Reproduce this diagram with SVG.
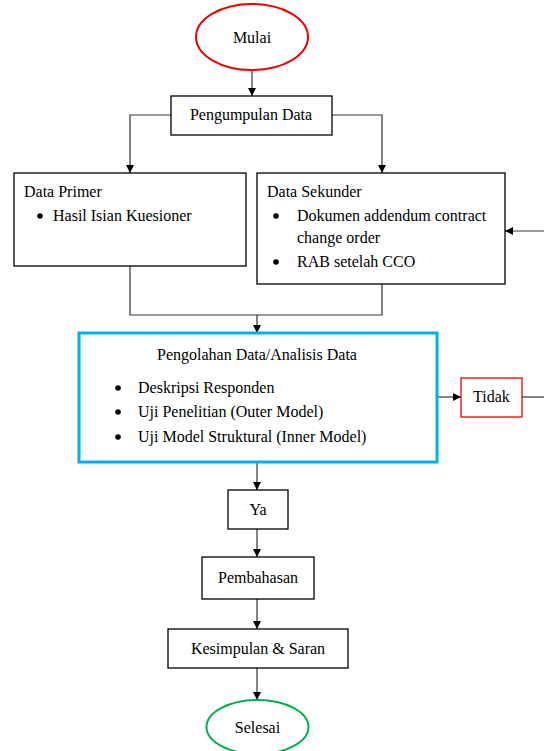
<svg xmlns="http://www.w3.org/2000/svg" width="544" height="751" viewBox="0 0 544 751">
<style>
text{font-family:"Liberation Serif","Times New Roman",serif;font-size:16px;fill:#000}
.c{text-anchor:middle}
.box{fill:#fff;stroke:#000;stroke-width:1.3}
.ln{fill:none;stroke:#333;stroke-width:1.2}
.b{fill:#000}
</style>
<defs>
<marker id="ah" viewBox="0 0 10 10" refX="10" refY="5" markerWidth="8" markerHeight="8" markerUnits="userSpaceOnUse" orient="auto">
<path d="M0,0 L10,5 L0,10 z" fill="#000"/>
</marker>
</defs>
<rect width="544" height="751" fill="#fff"/>
<g id="connectors">
<path class="ln" d="M252,70 V96" marker-end="url(#ah)"/>
<path class="ln" d="M171,115 H130 V173" marker-end="url(#ah)"/>
<path class="ln" d="M332,115 H382 V173" marker-end="url(#ah)"/>
<path class="ln" d="M544,231 H505" marker-end="url(#ah)"/>
<path class="ln" d="M130,266 V315 H382 V284"/>
<path class="ln" d="M257,315 V333" marker-end="url(#ah)"/>
<path class="ln" d="M437,397 H461" marker-end="url(#ah)"/>
<path class="ln" d="M522,397 H544"/>
<path class="ln" d="M257,462 V490" marker-end="url(#ah)"/>
<path class="ln" d="M257,529 V557" marker-end="url(#ah)"/>
<path class="ln" d="M257,599 V629" marker-end="url(#ah)"/>
<path class="ln" d="M257,668 V700" marker-end="url(#ah)"/>
</g>
<g id="mulai">
<ellipse cx="252" cy="37" rx="56" ry="33" fill="#fff" stroke="#e00" stroke-width="2"/>
<text class="c" x="252" y="43">Mulai</text>
</g>
<g id="pengumpulan">
<rect class="box" x="171" y="96" width="161" height="39"/>
<text class="c" x="251" y="120">Pengumpulan Data</text>
</g>
<g id="primer">
<rect class="box" x="14" y="173" width="232" height="93"/>
<text x="24" y="197">Data Primer</text>
<circle class="b" cx="40" cy="216" r="2.8"/>
<text x="53" y="221">Hasil Isian Kuesioner</text>
</g>
<g id="sekunder">
<rect class="box" x="257" y="173" width="248" height="111"/>
<text x="267" y="197">Data Sekunder</text>
<circle class="b" cx="276" cy="216" r="2.8"/>
<text x="297" y="221">Dokumen addendum contract</text>
<text x="297" y="243">change order</text>
<circle class="b" cx="276" cy="262" r="2.8"/>
<text x="297" y="267">RAB setelah CCO</text>
</g>
<g id="pengolahan">
<rect x="79" y="333" width="358" height="129" fill="#fff" stroke="#00b0f0" stroke-width="3"/>
<text class="c" x="257" y="360">Pengolahan Data/Analisis Data</text>
<circle class="b" cx="118" cy="388" r="2.8"/>
<text x="138" y="393">Deskripsi Responden</text>
<circle class="b" cx="118" cy="412" r="2.8"/>
<text x="138" y="417">Uji Penelitian (Outer Model)</text>
<circle class="b" cx="118" cy="437" r="2.8"/>
<text x="138" y="442">Uji Model Struktural (Inner Model)</text>
</g>
<g id="tidak">
<rect x="461" y="378" width="61" height="39" fill="#fff" stroke="#e00" stroke-width="1.3"/>
<text class="c" x="491.5" y="402">Tidak</text>
</g>
<g id="ya">
<rect class="box" x="228" y="490" width="60" height="39"/>
<text class="c" x="258" y="515">Ya</text>
</g>
<g id="pembahasan">
<rect class="box" x="202" y="557" width="112" height="42"/>
<text class="c" x="258" y="583">Pembahasan</text>
</g>
<g id="kesimpulan">
<rect class="box" x="168" y="629" width="180" height="39"/>
<text class="c" x="258" y="654">Kesimpulan &amp; Saran</text>
</g>
<g id="selesai">
<ellipse cx="257.5" cy="727" rx="51" ry="27" fill="#fff" stroke="#00b050" stroke-width="2"/>
<text class="c" x="257.5" y="733">Selesai</text>
</g>
</svg>
